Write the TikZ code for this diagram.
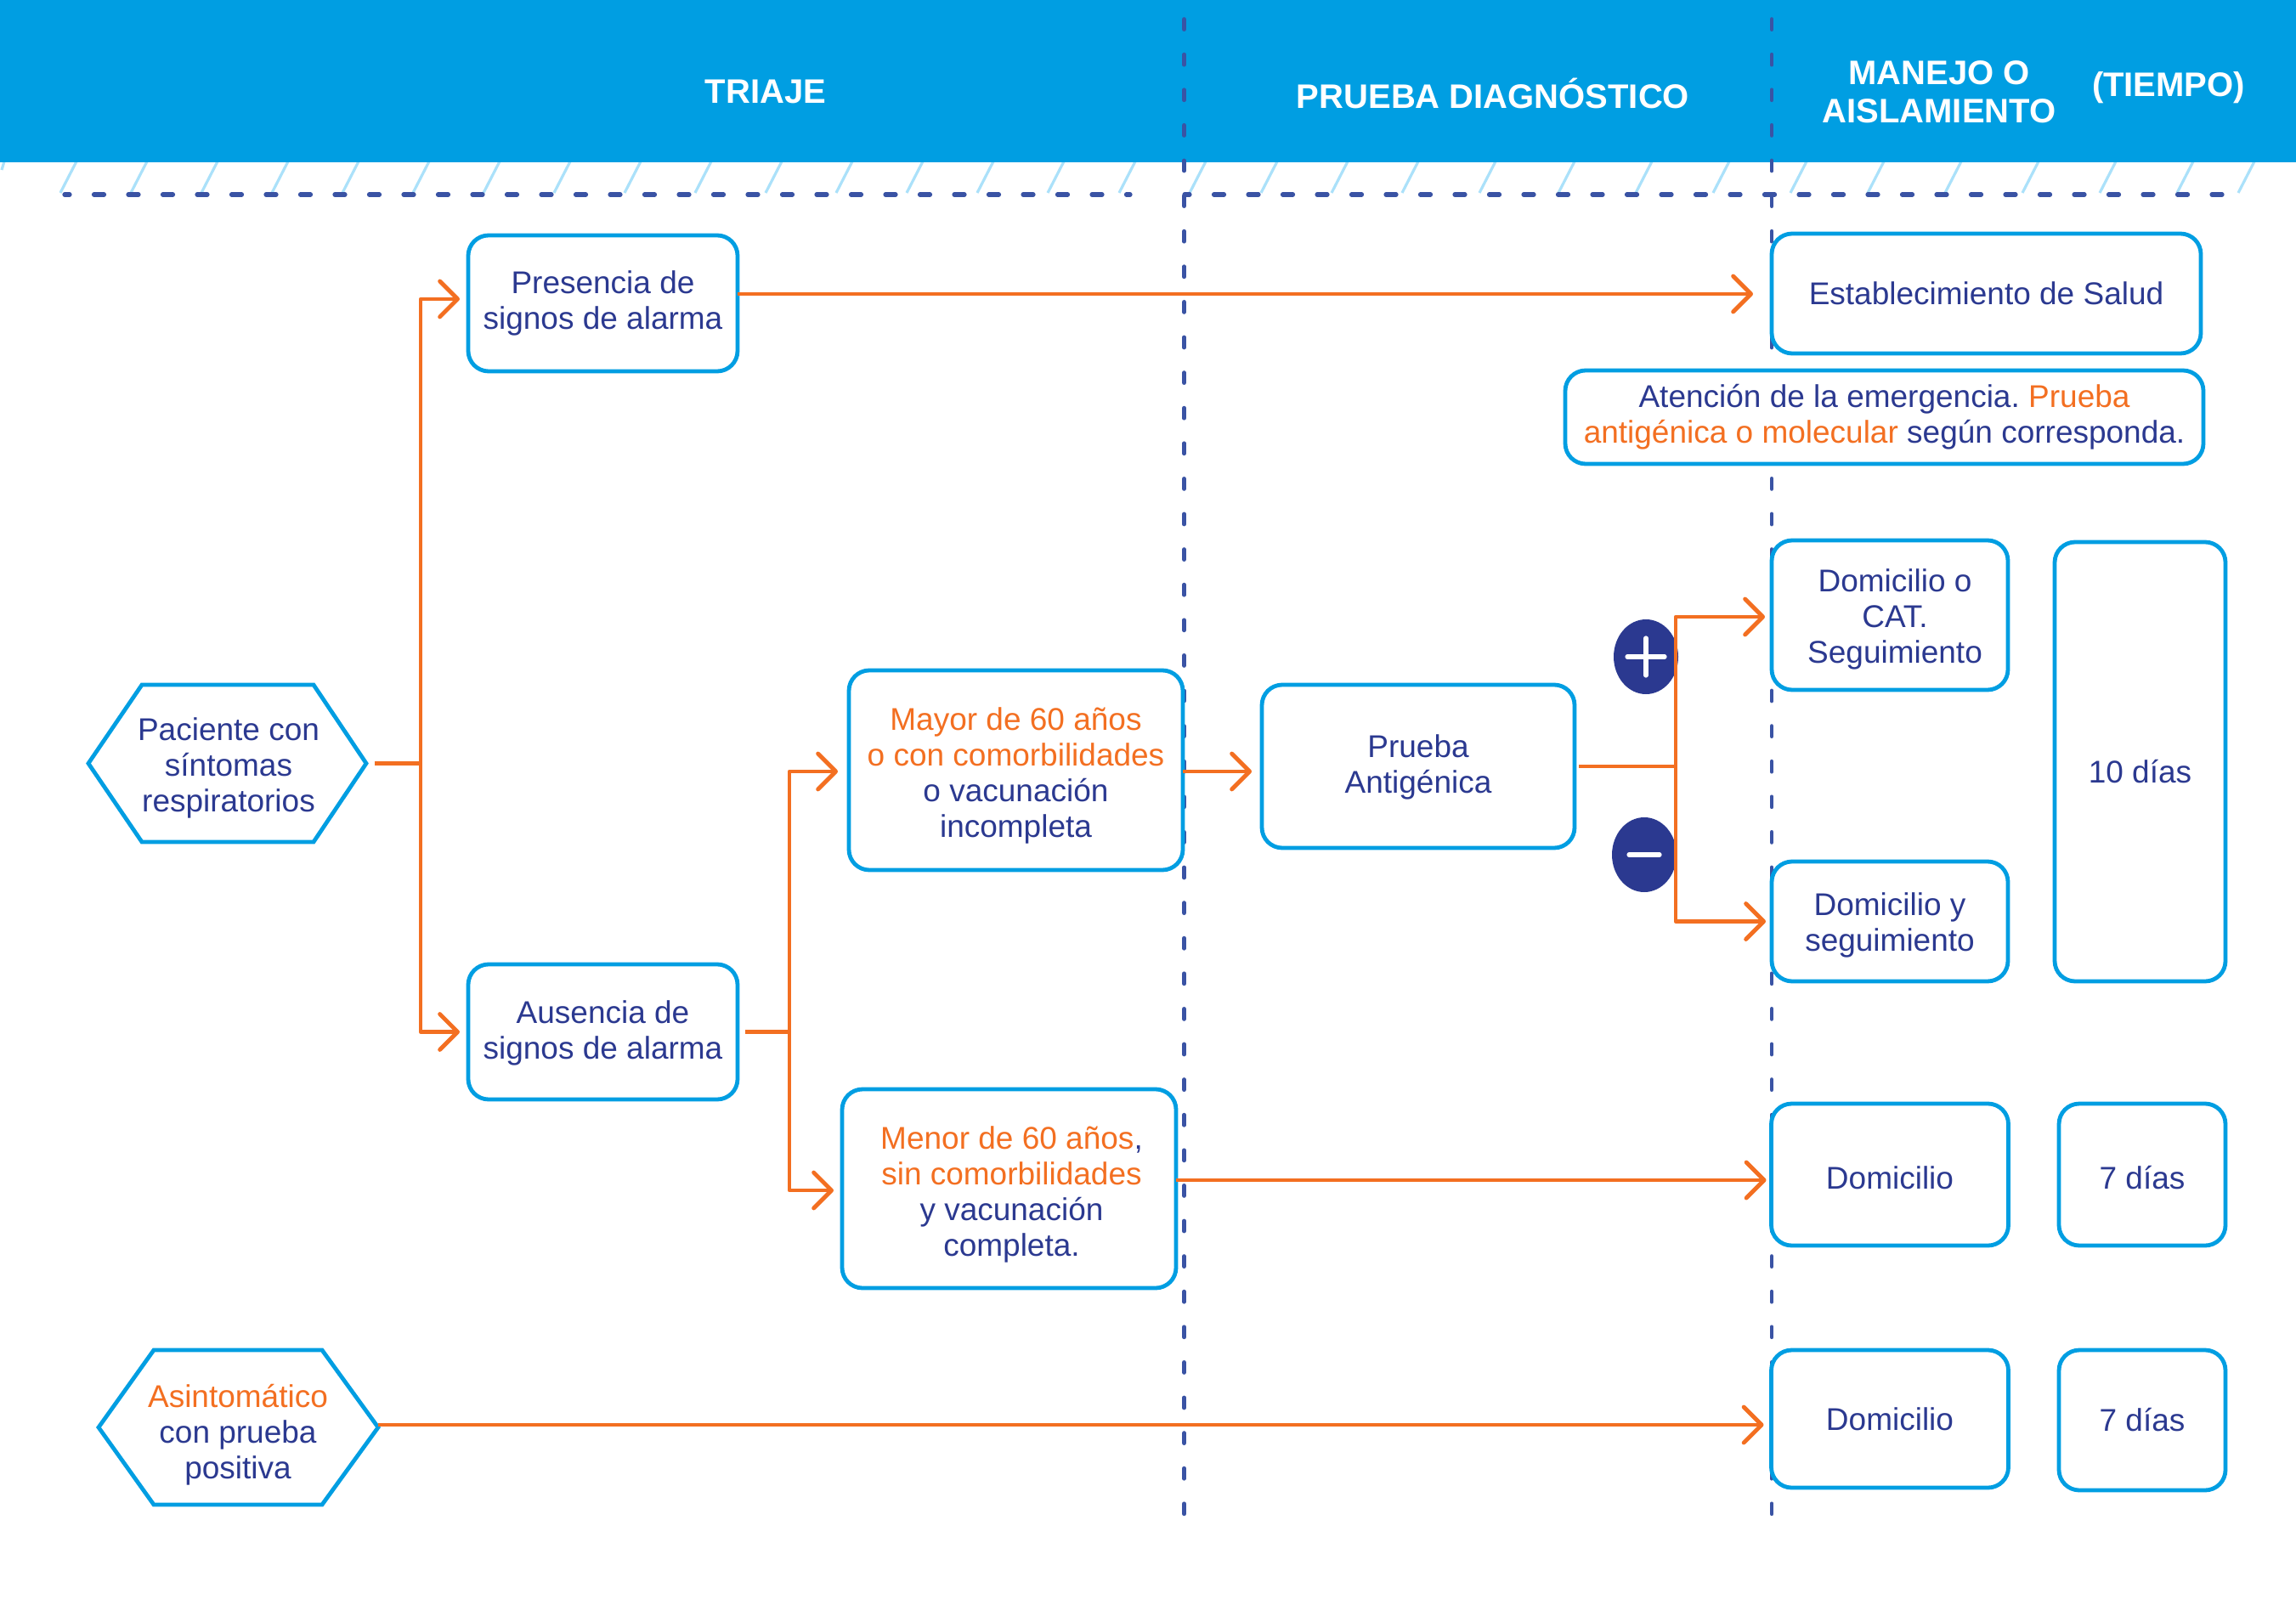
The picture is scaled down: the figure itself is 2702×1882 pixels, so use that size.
\documentclass[tikz,border=0pt]{standalone}
\usepackage{fontspec}
\setmainfont{Liberation Sans}
\frenchspacing
\usetikzlibrary{arrows.meta,shapes.geometric}
\definecolor{headblue}{HTML}{009EE2}
\definecolor{navy}{HTML}{2B3990}
\definecolor{dashblue}{HTML}{3A53A4}
\definecolor{orange1}{HTML}{F36F21}
\definecolor{hatchblue}{HTML}{ABE1FA}
\newcommand{\og}[1]{\textcolor{orange1}{#1}}
\newcommand{\dn}[1]{\rule{0pt}{\dimexpr 0.73em+2\dimexpr #1\relax\relax}}
\tikzset{
  sz/.style 2 args={minimum width=#1*0.5pt,minimum height=#2*0.5pt},
  box/.style={draw=headblue,line width=2.4pt,rounded corners=12pt,fill=white,align=center,
    text=navy,font=\fontsize{18.5}{21}\selectfont,inner sep=0pt,outer sep=0pt},
  hexa/.style={draw=headblue,line width=2.4pt,fill=white,line join=miter},
  hexatxt/.style={align=center,text=navy,font=\fontsize{18.5}{21}\selectfont,inner sep=0pt},
  headtxt/.style={text=white,align=center,font=\bfseries\fontsize{20}{22.5}\selectfont,inner sep=0pt},
  conn/.style={draw=orange1,line width=2.4pt,line join=round},
  arrowconn/.style={conn,-{Straight Barb[length=10.5pt,width=21pt,round]}},
  vdash/.style={draw=dashblue,line width=2.4pt,line cap=round,dash pattern=on 6pt off 14.8pt},
  hdash/.style={draw=dashblue,line width=2.6pt,line cap=round,dash pattern=on 6pt off 14.25pt,dash phase=3pt},
  hatch/.style={draw=hatchblue,line width=1.6pt},
  sign/.style={fill=navy,draw=none,ellipse,inner sep=0pt},
  signbar/.style={draw=white,line width=2.6pt,line cap=round}
}
\begin{document}
\begin{tikzpicture}[x=0.5pt,y=-0.5pt]
\useasboundingbox (0,0) rectangle (2702,1882);
\fill[white] (0,0) rectangle (2702,1882);
% hatches
\foreach \b in {71,154,237,320,403,486,569,652,735,818,901,984,1067,1150,1233,1317,1400,1484,1567,1650,1741,1834,1925,2016,2107,2198,2289,2380,2471,2562,2634}
  \draw[hatch] (\b,227) -- (\b+19,190);
\draw[hatch] (5,190) -- (2,200);
% header
\fill[headblue] (0,0) rectangle (2702,191);
\node[headtxt] (t1) at (901,108) {TRIAJE};
\node[headtxt] (t2) at (1757,110) {PRUEBA DIAGNÓSTICO};
\node[headtxt] (t3) at (2282,108) {MANEJO O\\AISLAMIENTO};
\node[headtxt] (t4) at (2552,103) {(TIEMPO)};
% dashed lines
\coordinate (v1a) at (1393.5,-19);
\coordinate (v1b) at (1393.5,1785);
\coordinate (v2a) at (2085,-19);
\coordinate (v2b) at (2085,1785);
\coordinate (h1a) at (76,229);
\coordinate (h1b) at (1330,229);
\coordinate (h2a) at (1394,229);
\coordinate (h2b) at (2640,229);
\draw[vdash] (v1a) -- (v1b);
\draw[vdash] (v2a) -- (v2b);
\draw[hdash] (h1a) -- (h1b);
\draw[hdash] (h2a) -- (h2b);
% hexagons
\coordinate (pacE) at (431,898.5);
\coordinate (asiE) at (445,1680);
\draw[hexa] (104,898.5) -- (167,806) -- (369,806) -- (pacE) -- (369,991) -- (167,991) -- cycle;
\draw[hexa] (116,1680) -- (181,1589) -- (379,1589) -- (asiE) -- (379,1771) -- (181,1771) -- cycle;
\node[hexatxt] (pac) at (269,904) {Paciente con\\síntomas\\respiratorios};
\node[hexatxt] (asi) at (280,1689) {\og{Asintomático}\\con prueba\\positiva};
% boxes
\node[box,sz={317}{160}] (pres) at (709.5,357) {Presencia de\\signos de alarma};
\node[box,sz={317}{159}] (aus) at (709.5,1214.5) {\dn{0.6pt}Ausencia de\\signos de alarma};
\node[box,sz={393}{235}] (may) at (1195.5,906.5) {\dn{3.4pt}\og{Mayor de 60 años}\\\og{o con comorbilidades}\\o vacunación\\incompleta};
\node[box,sz={393}{234}] (men) at (1187.5,1399) {\dn{3.4pt}\hspace*{3pt}\og{Menor de 60 años},\\\hspace*{3pt}\og{sin comorbilidades}\\\hspace*{3pt}y vacunación\\\hspace*{3pt}completa.};
\node[box,sz={368}{192}] (ant) at (1669,902) {\dn{0.6pt}Prueba\\Antigénica};
\node[box,sz={505}{141}] (est) at (2337.5,345.5) {Establecimiento de Salud};
\node[box,sz={751}{110}] (ate) at (2217.5,491) {Atención de la emergencia. \og{Prueba}\\\og{antigénica o molecular} según corresponda.};
\node[box,sz={278}{176}] (domo) at (2224,724) {\dn{2.3pt}\hspace*{6pt}Domicilio o\\\hspace*{6pt}CAT.\\\hspace*{6pt}Seguimiento};
\node[box,sz={278}{141}] (domy) at (2224,1084.5) {\dn{2.1pt}Domicilio y\\seguimiento};
\node[box,sz={201}{517}] (d10) at (2518.5,896.5) {\dn{6pt}10 días};
\node[box,sz={279}{167}] (dom) at (2224,1382.5) {\dn{2pt}Domicilio};
\node[box,sz={196}{167}] (d7a) at (2521,1382.5) {\dn{2pt}7 días};
\node[box,sz={279}{162}] (dom2) at (2224,1670) {Domicilio};
\node[box,sz={196}{165}] (d7b) at (2521,1671.5) {7 días};
% signs
\node[sign,minimum width=38pt,minimum height=44pt] (plus) at (1937,773) {};
\node[sign,minimum width=38pt,minimum height=44pt] (minus) at (1935,1006) {};
\draw[signbar] ([xshift=-11pt]plus.center) -- ([xshift=11pt]plus.center);
\draw[signbar] ([yshift=-11pt]plus.center) -- ([yshift=11pt]plus.center);
\draw[signbar] ([xshift=-9pt]minus.center) -- ([xshift=9pt]minus.center);
% connectors
\coordinate (j1) at (495,898.5);
\coordinate (j2) at (929,1214.5);
\coordinate (j3) at (1972,902);
\draw[conn] ([xshift=5pt]pacE) -- (j1);
\draw[arrowconn] (j1) |- ([xshift=-5pt,yshift=2.5pt]pres.west);
\draw[arrowconn] (j1) |- ([xshift=-5pt]aus.west);
\draw[arrowconn] (pres.east |- est.west) ++(0,0.5) -- ([xshift=-11pt,yshift=-0.25pt]est.west);
\draw[conn] ([xshift=4.5pt]aus.east) -- (j2);
\draw[arrowconn] (j2) |- ([xshift=-6.5pt,yshift=-0.75pt]may.west);
\draw[arrowconn] (j2) |- ([xshift=-5pt,yshift=-1pt]men.west);
\draw[arrowconn] ([yshift=-0.75pt]may.east) -- ([xshift=-6pt,yshift=-3pt]ant.west);
\draw[conn] ([xshift=2.5pt]ant.east) -- (j3);
\draw[arrowconn] (j3) |- ([xshift=-4pt,yshift=-1pt]domo.west);
\draw[arrowconn] (j3) |- ([xshift=-3.5pt]domy.west);
\draw[arrowconn] (men.east |- dom.west) ++(0,6.5) -- ([xshift=-3pt,yshift=-3.25pt]dom.west);
\draw[arrowconn] ([yshift=1.5pt]asiE) -- ([xshift=-4.5pt,yshift=-3.5pt]dom2.west);
\end{tikzpicture}
\end{document}
